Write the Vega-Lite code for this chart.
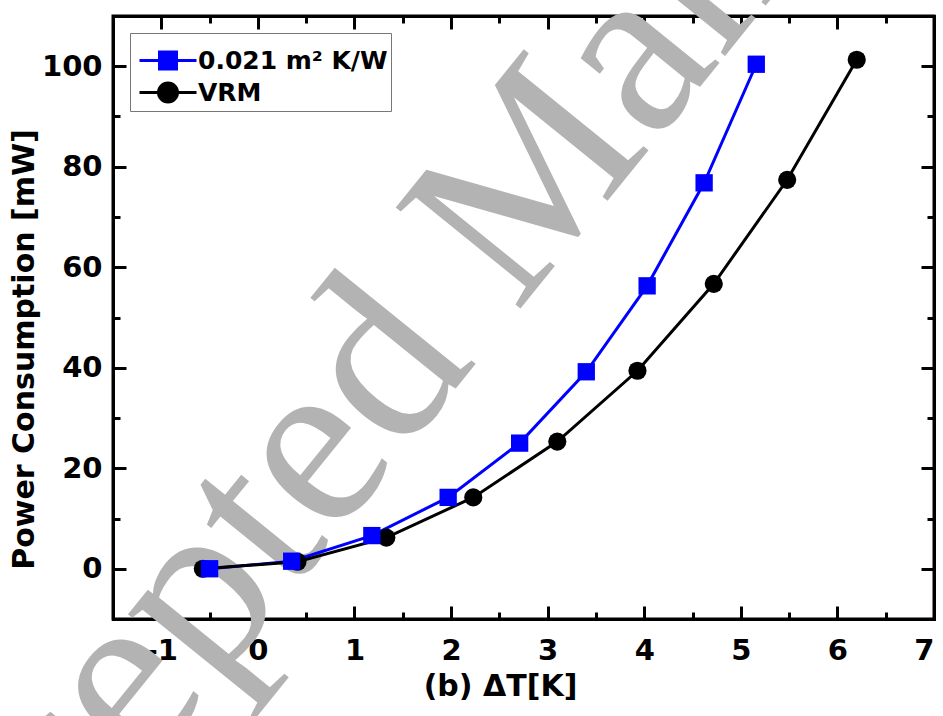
{
  "$schema": "https://vega.github.io/schema/vega-lite/v6.json",
  "width": 821,
  "height": 603,
  "autosize": {"type": "none"},
  "padding": {"left": 113, "top": 16, "right": 9, "bottom": 97},
  "background": "white",
  "config": {
    "font": "DejaVu Sans",
    "view": {"stroke": "black", "strokeWidth": 3},
    "axis": {"zindex": 1, "domain": true, "domainColor": "black", "domainWidth": 3, "domainCap": "square", "grid": false, "tickColor": "black", "labelColor": "black", "titleColor": "black"}
  },
  "data": {
    "values": [
      {"series": "0.021 m² K/W", "dT": -0.5, "power": 0},
      {"series": "0.021 m² K/W", "dT": 0.35, "power": 1.5},
      {"series": "0.021 m² K/W", "dT": 1.18, "power": 6.6},
      {"series": "0.021 m² K/W", "dT": 1.97, "power": 14.2},
      {"series": "0.021 m² K/W", "dT": 2.71, "power": 25.0},
      {"series": "0.021 m² K/W", "dT": 3.4, "power": 39.2},
      {"series": "0.021 m² K/W", "dT": 4.03, "power": 56.3},
      {"series": "0.021 m² K/W", "dT": 4.62, "power": 76.8},
      {"series": "0.021 m² K/W", "dT": 5.16, "power": 100.4},
      {"series": "VRM", "dT": -0.57, "power": 0},
      {"series": "VRM", "dT": 0.41, "power": 1.4},
      {"series": "VRM", "dT": 1.33, "power": 6.2},
      {"series": "VRM", "dT": 2.23, "power": 14.2},
      {"series": "VRM", "dT": 3.1, "power": 25.3},
      {"series": "VRM", "dT": 3.93, "power": 39.4},
      {"series": "VRM", "dT": 4.72, "power": 56.7},
      {"series": "VRM", "dT": 5.48, "power": 77.4},
      {"series": "VRM", "dT": 6.2, "power": 101.3}
    ]
  },
  "resolve": {"axis": {"x": "independent", "y": "independent"}},
  "layer": [
    {
      "data": {"values": [{"watermark": "Accepted Manuscript"}]},
      "mark": {"type": "text", "font": "Liberation Serif", "fontSize": 245, "angle": 309, "color": "#b3b3b3", "align": "center", "baseline": "middle"},
      "encoding": {
        "text": {"field": "watermark", "type": "nominal"},
        "x": {"datum": 2.5, "type": "quantitative", "axis": null},
        "y": {"datum": 70, "type": "quantitative", "axis": null}
      }
    },
    {
      "mark": {"type": "line", "strokeWidth": 3, "clip": true},
      "encoding": {
        "x": {
          "field": "dT", "type": "quantitative",
          "scale": {"domain": [-1.5, 7], "nice": false, "zero": false},
          "axis": {
            "orient": "bottom",
            "values": [-1, 0, 1, 2, 3, 4, 5, 6, 7],
            "labelExpr": "'' + datum.value",
            "ticks": false, "tickSize": 0, "domain": false,
            "labelFontSize": 29, "labelFontWeight": "bold", "labelPadding": 17,
            "title": "(b) ΔT[K]", "titleFontSize": 30, "titleFontWeight": "bold", "titlePadding": 6, "titleX": 387
          }
        },
        "y": {
          "field": "power", "type": "quantitative",
          "scale": {"domain": [-10, 110], "nice": false, "zero": false},
          "axis": {
            "orient": "left",
            "values": [0, 20, 40, 60, 80, 100],
            "labelExpr": "'' + datum.value",
            "ticks": false, "tickSize": 0, "domain": false,
            "labelFontSize": 29, "labelFontWeight": "bold", "labelPadding": 11,
            "title": "Power Consumption [mW]", "titleFontSize": 30, "titleFontWeight": "bold", "titlePadding": 2, "titleY": 333
          }
        },
        "color": {
          "field": "series", "type": "nominal",
          "scale": {"domain": ["0.021 m² K/W", "VRM"], "range": ["#0000ff", "#000000"]},
          "legend": {
            "orient": "top-left", "offset": 17, "title": " ", "titleFontSize": 10, "titlePadding": 2,
            "strokeColor": "#777777", "padding": 3, "fillColor": "white",
            "labelFontSize": 25, "labelFontWeight": "bold", "labelColor": "black", "labelLimit": 0,
            "labelOffset": 40, "rowPadding": 2, "symbolSize": 400, "symbolStrokeWidth": 3,
            "encode": {
              "symbols": {
                "update": {
                  "shape": {"signal": "datum.value === 'VRM' ? 'M-0.6,0H5.1M2.25,-0.95A0.95,0.95,0,1,1,2.25,0.95A0.95,0.95,0,1,1,2.25,-0.95Z' : 'M-0.6,0H5.1M1.4,-0.85H3.1V0.85H1.4Z'"},
                  "fill": {"signal": "datum.value === 'VRM' ? '#000000' : '#0000ff'"},
                  "stroke": {"signal": "datum.value === 'VRM' ? '#000000' : '#0000ff'"},
                  "strokeWidth": {"value": 3},
                  "opacity": {"value": 1},
                  "fillOpacity": {"value": 1},
                  "strokeOpacity": {"value": 1}
                }
              }
            }
          }
        }
      }
    },
    {
      "transform": [{"filter": "datum.series === 'VRM'"}],
      "mark": {"type": "point", "shape": "circle", "filled": true, "opacity": 1, "size": 330, "color": "#000000", "clip": true},
      "encoding": {
        "x": {"field": "dT", "type": "quantitative", "axis": null},
        "y": {"field": "power", "type": "quantitative", "axis": null}
      }
    },
    {
      "transform": [{"filter": "datum.series !== 'VRM'"}],
      "mark": {"type": "point", "shape": "square", "filled": true, "opacity": 1, "size": 300, "color": "#0000ff", "clip": true},
      "encoding": {
        "x": {"field": "dT", "type": "quantitative", "axis": null},
        "y": {"field": "power", "type": "quantitative", "axis": null}
      }
    },
    {
      "mark": {"type": "point", "opacity": 0},
      "encoding": {
        "x": {
          "field": "dT", "type": "quantitative",
          "axis": {
            "orient": "top", "labels": false, "title": null,
            "values": [-1, -0.5, 0, 0.5, 1, 1.5, 2, 2.5, 3, 3.5, 4, 4.5, 5, 5.5, 6, 6.5],
            "tickSize": {"condition": {"test": "datum.value % 1 === 0", "value": -13}, "value": -7},
            "tickWidth": 3
          }
        },
        "y": {
          "field": "power", "type": "quantitative",
          "axis": {
            "orient": "right", "labels": false, "title": null,
            "values": [0, 10, 20, 30, 40, 50, 60, 70, 80, 90, 100],
            "tickSize": {"condition": {"test": "datum.value % 20 === 0", "value": -13}, "value": -7},
            "tickWidth": 3
          }
        }
      }
    },
    {
      "mark": {"type": "point", "opacity": 0},
      "encoding": {
        "x": {
          "field": "dT", "type": "quantitative",
          "axis": {
            "orient": "bottom", "labels": false, "title": null,
            "values": [-1, -0.5, 0, 0.5, 1, 1.5, 2, 2.5, 3, 3.5, 4, 4.5, 5, 5.5, 6, 6.5],
            "tickSize": {"condition": {"test": "datum.value % 1 === 0", "value": -13}, "value": -7},
            "tickWidth": 3
          }
        },
        "y": {
          "field": "power", "type": "quantitative",
          "axis": {
            "orient": "left", "labels": false, "title": null,
            "values": [0, 10, 20, 30, 40, 50, 60, 70, 80, 90, 100],
            "tickSize": {"condition": {"test": "datum.value % 20 === 0", "value": -13}, "value": -7},
            "tickWidth": 3
          }
        }
      }
    }
  ]
}
